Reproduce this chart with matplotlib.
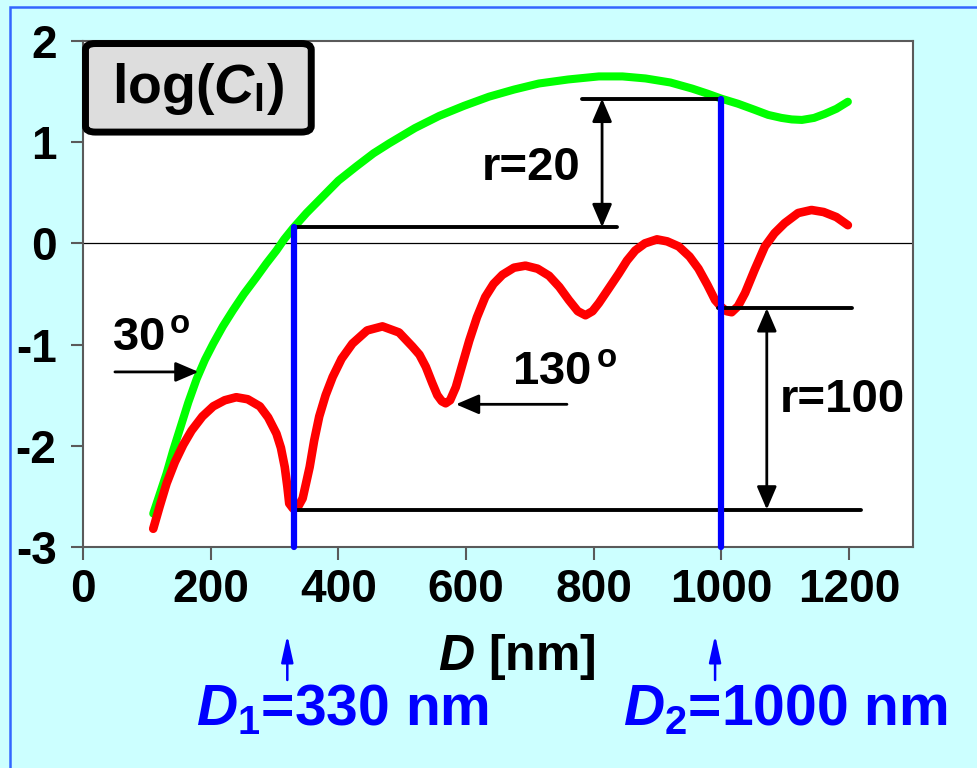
import numpy as np
import matplotlib
matplotlib.use("Agg")
import matplotlib.pyplot as plt
from matplotlib.patches import Rectangle, FancyBboxPatch

plt.rcParams['font.family'] = ['Liberation Sans', 'DejaVu Sans']
plt.rcParams['font.weight'] = 'bold'
plt.rcParams['axes.unicode_minus'] = False
plt.rcParams['mathtext.fontset'] = 'custom'
plt.rcParams['mathtext.rm'] = 'Liberation Sans:bold'
plt.rcParams['mathtext.it'] = 'Liberation Sans:bold:italic'
plt.rcParams['mathtext.bf'] = 'Liberation Sans:bold'

# ==== data ====
D_green = [110, 120, 131, 141, 152, 165, 178, 191, 204, 219, 235, 252, 271, 287,
           303, 315, 329, 350, 375, 400, 428, 455, 480, 520, 558, 597, 636, 675,
           714, 760, 808, 845, 881, 920, 954, 978, 1000, 1026, 1052, 1073, 1094,
           1110, 1126, 1145, 1162, 1180, 1198]
logC_green = [-2.67, -2.48, -2.27, -2.05, -1.83, -1.57, -1.34, -1.15, -0.99, -0.82,
              -0.66, -0.50, -0.34, -0.20, -0.07, 0.04, 0.15, 0.30, 0.46, 0.62,
              0.76, 0.89, 0.99, 1.14, 1.26, 1.36, 1.45, 1.52, 1.58, 1.62, 1.65,
              1.65, 1.63, 1.59, 1.53, 1.48, 1.43, 1.38, 1.32, 1.27, 1.24, 1.225,
              1.22, 1.24, 1.28, 1.33, 1.40]

D_red = [110, 120, 131, 144, 157, 170, 187, 204, 222, 240, 258, 277, 290, 303,
         310, 316, 320, 323, 329, 337, 344, 349, 355, 362, 370, 380, 391, 405, 422,
         445, 469, 495, 516, 527, 537, 547, 555, 562, 568, 575, 584, 594, 605,
         617, 630, 643, 657, 675, 693, 712, 730, 746, 761, 775, 787, 798, 808,
         823, 839, 852, 865, 880, 899, 915, 933, 950, 964, 978, 990, 1000, 1008,
         1016, 1026, 1037, 1052, 1068, 1083, 1099, 1120, 1141, 1160, 1180, 1198]
logC_red = [-2.82, -2.60, -2.37, -2.16, -1.99, -1.85, -1.71, -1.61, -1.55, -1.52,
            -1.54, -1.61, -1.72, -1.88, -2.02, -2.21, -2.40, -2.57, -2.62, -2.60,
            -2.52, -2.38, -2.21, -1.95, -1.71, -1.50, -1.32, -1.14, -0.99, -0.86,
            -0.82, -0.88, -1.02, -1.10, -1.22, -1.38, -1.50, -1.56, -1.58, -1.55,
            -1.42, -1.20, -0.96, -0.73, -0.53, -0.40, -0.31, -0.24, -0.22, -0.25,
            -0.32, -0.43, -0.56, -0.67, -0.71, -0.67, -0.59, -0.45, -0.30, -0.17,
            -0.07, 0.00, 0.04, 0.02, -0.03, -0.13, -0.25, -0.41, -0.56, -0.63,
            -0.67, -0.68, -0.62, -0.49, -0.26, -0.03, 0.10, 0.20, 0.30, 0.33,
            0.31, 0.26, 0.18]

D1, D2 = 330, 1000
green_D1, green_D2 = 0.16, 1.43   # r=20 levels
red_D1, red_D2 = -2.63, -0.64     # r=100 levels

xticks = [0, 200, 400, 600, 800, 1000, 1200]
yticks = [-3, -2, -1, 0, 1, 2]

# ==== figure ====
fig = plt.figure(figsize=(9.77, 7.68), dpi=100, facecolor='#CCFFFF')
fig.patches.append(Rectangle((10/977, -0.1), 1.5, 1 - 7/768 + 0.1,
                             transform=fig.transFigure, fill=False,
                             ec='#3366FF', lw=1.8))

ax = fig.add_axes([83/977, 1 - 547/768, 830/977, 506/768])
ax.set_xlim(0, 1300)
ax.set_ylim(-3, 2)
ax.axhline(0, color='black', lw=0.9, zorder=1)

ax.plot(D_green, logC_green, color='#00FF00', lw=5.8, solid_capstyle='round',
        solid_joinstyle='round', zorder=3)
ax.plot(D_red, logC_red, color='#FF0000', lw=6.2, solid_capstyle='round',
        solid_joinstyle='round', zorder=3)

# horizontal reference lines
line_kw = dict(color='black', lw=2.8, solid_capstyle='round', zorder=4)
ax.plot([D1, 837], [green_D1, green_D1], **line_kw)
ax.plot([781, D2], [green_D2, green_D2], **line_kw)
ax.plot([995, 1204], [red_D2, red_D2], **line_kw)
ax.plot([D1, 1219], [red_D1, red_D1], **line_kw)

# blue verticals at D1, D2
ax.plot([D1, D1], [-3, green_D1], color='#0000FF', lw=4.5,
        solid_capstyle='round', clip_on=False, zorder=5)
ax.plot([D2, D2], [-3, green_D2], color='#0000FF', lw=4.5,
        solid_capstyle='round', clip_on=False, zorder=5)

# double arrows r=20, r=100
darrow = dict(arrowstyle='<|-|>,head_length=0.7,head_width=0.3', color='black',
              lw=2, shrinkA=0, shrinkB=0, mutation_scale=20)
ax.annotate('', xy=(813, green_D2), xytext=(813, green_D1), arrowprops=darrow)
ax.annotate('', xy=(1071, red_D2), xytext=(1071, red_D1), arrowprops=darrow)

# single arrows for angles
sarrow = dict(arrowstyle='-|>,head_length=0.7,head_width=0.3', color='black',
              lw=2, shrinkA=0, shrinkB=0, mutation_scale=20)
ax.annotate('', xy=(181, -1.27), xytext=(50, -1.27), arrowprops=sarrow)
ax.annotate('', xy=(584, -1.59), xytext=(758, -1.59), arrowprops=sarrow)

ax.text(702, 0.75, 'r=20', fontsize=34, ha='center', va='center')
ax.text(1092, -1.55, 'r=100', fontsize=34, ha='left', va='center')
ax.text(45, -0.94, '30$^{\\,\\mathrm{o}}$', fontsize=34, ha='left', va='center')
ax.text(672, -1.28, '130$^{\\,\\mathrm{o}}$', fontsize=34, ha='left', va='center')

# log(C_l) box
ax.add_patch(FancyBboxPatch((0.003, 0.82), 0.272, 0.175,
                            boxstyle='round,pad=0,rounding_size=0.012',
                            transform=ax.transAxes, fc='#DDDDDD', ec='black',
                            lw=5, clip_on=False, zorder=6))
ax.text(0.139, 0.905, 'log($C_\\mathrm{l}$)', transform=ax.transAxes,
        fontsize=40, ha='center', va='center', zorder=7)

# axes styling
for s in ax.spines.values():
    s.set_color('#5a5a5a')
    s.set_linewidth(1.5)
ax.set_xticks(xticks)
ax.set_yticks(yticks)
ax.tick_params(axis='both', direction='out', length=9, width=1.5,
               color='#5a5a5a', labelsize=33)
ax.tick_params(axis='x', pad=6)
ax.tick_params(axis='y', pad=10)

fig.text(517/977, 1 - 657/768, '$D$ [nm]', fontsize=36, ha='center', va='center')

# blue markers for D1, D2 below the axis
for d in [D1, D2]:
    ax.annotate('', xy=(d - 10, 1 - 635/768), xytext=(d - 10, 1 - 680/768),
                xycoords=('data', 'figure fraction'),
                textcoords=('data', 'figure fraction'),
                arrowprops=dict(arrowstyle='-|>,head_length=0.9,head_width=0.2',
                                color='#0000FF', lw=1.8, shrinkA=0, shrinkB=0,
                                mutation_scale=18))

fig.text(343/977, 1 - 710/768, '$D_1$=330 nm', fontsize=41, color='#0000FF',
         ha='center', va='center')
fig.text(785/977, 1 - 710/768, '$D_2$=1000 nm', fontsize=41, color='#0000FF',
         ha='center', va='center')

fig.savefig('out.png', dpi=100, facecolor=fig.get_facecolor())
